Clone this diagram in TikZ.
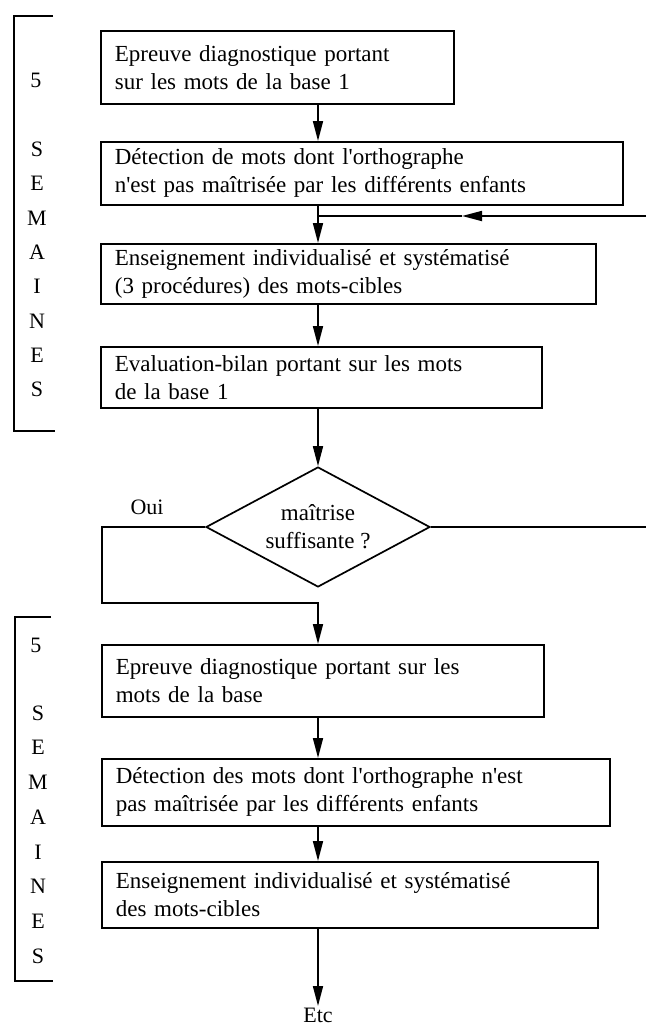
\documentclass[tikz,border=0pt]{standalone}
\usepackage{fontspec}
\setmainfont{Liberation Serif}
\usetikzlibrary{shapes.geometric,arrows.meta}
\newcommand\myfs{\fontsize{23}{28}\selectfont}
\newcommand\lblfs{\fontsize{22}{28}\selectfont}
\newcommand\q{\textquotesingle}
\begin{document}
\begin{tikzpicture}[x=1pt,y=-1pt,
  stepbox/.style={draw,line width=1.7pt,anchor=north west,inner xsep=14pt,inner ysep=0pt,align=left,font=\myfs},
  conn/.style={line width=1.7pt},
  arr/.style={conn,-{Triangle[length=20pt,width=10pt]}},
  brk/.style={line width=2pt},
  lbl/.style={font=\lblfs,inner sep=0pt}]
\fill[white] (0,0) rectangle (646,1026);
\useasboundingbox (0,0) rectangle (646,1026);

% brackets
\draw[brk] (53,16) -- (14,16) -- (14,431) -- (55,431);
\node[lbl] (n1) at (36,80) {5};
\foreach \l [count=\i] in {S,E,M,A,I,N,E,S}
  \node[lbl] (sa\i) at (37,{149+(\i-1)*34.4}) {\l};
\draw[brk] (51,617) -- (15,617) -- (15,981) -- (53,981);
\node[lbl] (n2) at (36,645) {5};
\foreach \l [count=\i] in {S,E,M,A,I,N,E,S}
  \node[lbl] (sb\i) at (38,{713+(\i-1)*34.7}) {\l};

% boxes
\node[stepbox,text width=325pt,minimum height=73pt] (b1) at (100,30) {Epreuve diagnostique portant\\sur les mots de la base 1};
\node[stepbox,text width=494pt,minimum height=63pt] (b2) at (100,141) {Détection de mots dont l\q orthographe\\n\q est pas maîtrisée par les différents enfants};
\node[stepbox,text width=467pt,minimum height=60pt] (b3) at (100,243) {Enseignement individualisé et systématisé\\(3 procédures) des mots-cibles};
\node[stepbox,text width=413pt,minimum height=61pt] (b4) at (100,346) {Evaluation-bilan portant sur les mots\\de la base 1};
\node[draw,diamond,line width=1.7pt,aspect=1.87,minimum width=224pt,minimum height=120pt,inner sep=0pt,align=center,font=\myfs] (d) at (318,527) {maîtrise\\suffisante ?};
\node[lbl] (oui) at (147,507) {Oui};
\node[stepbox,text width=414pt,minimum height=72pt] (b5) at (101,644) {Epreuve diagnostique portant sur les\\mots de la base};
\node[stepbox,text width=480pt,minimum height=67pt] (b6) at (101,758) {Détection des mots dont l\q orthographe n\q est\\pas maîtrisée par les différents enfants};
\node[stepbox,text width=468pt,minimum height=66pt] (b7) at (101,861) {Enseignement individualisé et systématisé\\des mots-cibles};
\node[lbl,anchor=north,inner sep=2pt] (etc) at (318,1006) {Etc};

% connectors
\coordinate (ax) at (318,0);
\draw[arr] (b1.south -| ax) -- (b2.north -| ax);
\coordinate (fbR) at (646,216);
\coordinate (fbT) at (462,216);
\coordinate (fbL) at (318,216);
\draw[arr] (fbR) -- (fbT);
\draw[conn] (fbT) -- (fbL);
\draw[arr] (b2.south -| ax) -- (b3.north -| ax);
\draw[arr] (b3.south -| ax) -- (b4.north -| ax);
\draw[arr] (b4.south -| ax) -- (d.north);
\coordinate (noR) at (646,527);
\draw[conn] (d.east) -- (noR);
\coordinate (ouiA) at (102,527);
\coordinate (ouiB) at (102,603);
\draw[arr] (d.west) -- (ouiA) -- (ouiB) -- (ouiB -| ax) -- (b5.north -| ax);
\draw[arr] (b5.south -| ax) -- (b6.north -| ax);
\draw[arr] (b6.south -| ax) -- (b7.north -| ax);
\draw[arr] (b7.south -| ax) -- (etc.north);
\end{tikzpicture}
\end{document}
